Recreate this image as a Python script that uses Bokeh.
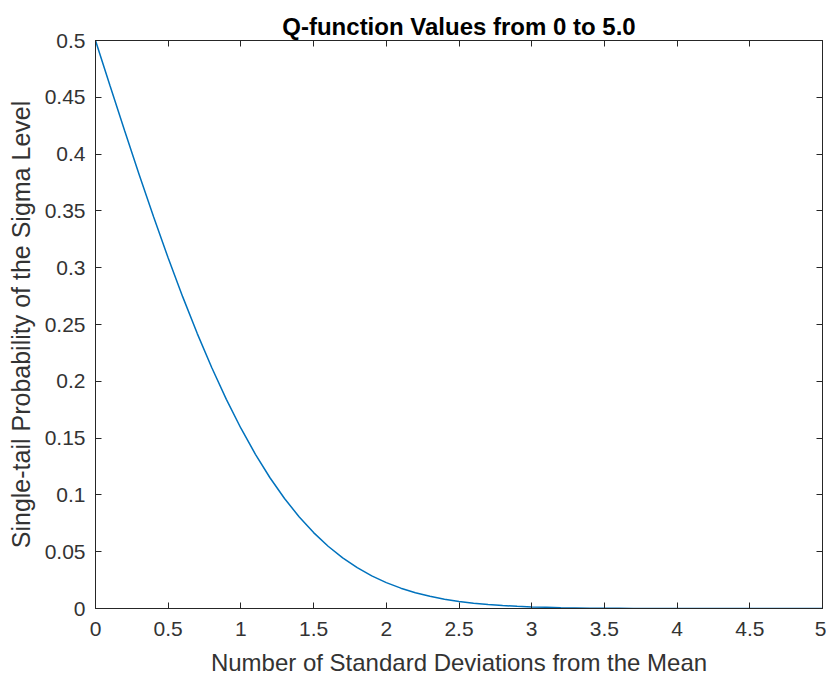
from bokeh.plotting import figure
from bokeh.models import FixedTicker, LinearAxis, Range1d
from bokeh.embed import file_html
from bokeh.resources import INLINE

# Data: Q-function values read at 0.1 steps
x_vals = [0.0, 0.1, 0.2, 0.3, 0.4, 0.5, 0.6, 0.7, 0.8, 0.9,
          1.0, 1.1, 1.2, 1.3, 1.4, 1.5, 1.6, 1.7, 1.8, 1.9,
          2.0, 2.1, 2.2, 2.3, 2.4, 2.5, 2.6, 2.7, 2.8, 2.9,
          3.0, 3.1, 3.2, 3.3, 3.4, 3.5, 3.6, 3.7, 3.8, 3.9,
          4.0, 4.1, 4.2, 4.3, 4.4, 4.5, 4.6, 4.7, 4.8, 4.9, 5.0]
q_vals = [0.5000, 0.4602, 0.4207, 0.3821, 0.3446, 0.3085, 0.2743, 0.2420, 0.2119, 0.1841,
          0.1587, 0.1357, 0.1151, 0.0968, 0.0808, 0.0668, 0.0548, 0.0446, 0.0359, 0.0287,
          0.0228, 0.0179, 0.0139, 0.0107, 0.0082, 0.0062, 0.0047, 0.0035, 0.0026, 0.0019,
          0.0013, 0.0010, 0.0007, 0.0005, 0.0003, 0.0002, 0.0002, 0.0001, 0.0001, 0.0000,
          0.0000, 0.0000, 0.0000, 0.0000, 0.0000, 0.0000, 0.0000, 0.0000, 0.0000, 0.0000, 0.0000]

x_ticks = [0, 0.5, 1, 1.5, 2, 2.5, 3, 3.5, 4, 4.5, 5]
x_tick_labels = ["0", "0.5", "1", "1.5", "2", "2.5", "3", "3.5", "4", "4.5", "5"]
y_ticks = [0, 0.05, 0.1, 0.15, 0.2, 0.25, 0.3, 0.35, 0.4, 0.45, 0.5]
y_tick_labels = ["0", "0.05", "0.1", "0.15", "0.2", "0.25", "0.3", "0.35", "0.4", "0.45", "0.5"]

title_text = "Q-function Values from 0 to 5.0"
x_label = "Number of Standard Deviations from the Mean"
y_label = "Single-tail Probability of the Sigma Level"

FONT = "Liberation Sans"
AX = "#262626"
TXT = "#333333"

p = figure(width=826, height=678, output_backend="svg", toolbar_location=None,
           x_range=Range1d(0, 5), y_range=Range1d(0, 0.5),
           min_border_left=95, min_border_right=4, min_border_top=40, min_border_bottom=70,
           x_axis_location=None, y_axis_location=None)

p.title.text = title_text
p.title.align = "center"
p.title.text_font = FONT
p.title.text_font_size = "24px"
p.title.text_font_style = "bold"
p.title.text_color = "#000000"
p.title.standoff = 2

p.grid.visible = False
p.outline_line_color = AX
p.outline_line_width = 1
p.background_fill_color = "white"
p.border_fill_color = "white"

def style(ax, labels=True):
    ax.major_tick_in = 6
    ax.major_tick_out = 0
    ax.minor_tick_in = 0
    ax.minor_tick_out = 0
    ax.axis_line_color = AX
    ax.major_tick_line_color = AX
    ax.major_label_text_font = FONT
    ax.major_label_text_font_size = "21px"
    ax.major_label_text_color = TXT
    ax.axis_label_text_font = FONT
    ax.axis_label_text_font_size = "24px"
    ax.axis_label_text_font_style = "normal"
    ax.axis_label_text_color = TXT
    if not labels:
        ax.major_label_text_font_size = "0px"
        ax.major_label_text_alpha = 0
        ax.major_label_standoff = 0

xb = LinearAxis(ticker=FixedTicker(ticks=x_ticks),
                major_label_overrides={t: l for t, l in zip(x_ticks, x_tick_labels)},
                axis_label=x_label)
style(xb)
xb.major_label_standoff = 13
xb.axis_label_standoff = 10
p.add_layout(xb, "below")

yl = LinearAxis(ticker=FixedTicker(ticks=y_ticks),
                major_label_overrides={t: l for t, l in zip(y_ticks, y_tick_labels)},
                axis_label=y_label)
style(yl)
yl.axis_label_text_font_size = "25px"
yl.major_label_standoff = 10
yl.axis_label_standoff = 7
p.add_layout(yl, "left")

xt = LinearAxis(ticker=FixedTicker(ticks=x_ticks))
style(xt, labels=False)
p.add_layout(xt, "above")

yr = LinearAxis(ticker=FixedTicker(ticks=y_ticks))
style(yr, labels=False)
p.add_layout(yr, "right")

p.line(x_vals, q_vals, line_color="#0072BD", line_width=1.5)

open("out.html", "w").write(file_html(p, INLINE))
